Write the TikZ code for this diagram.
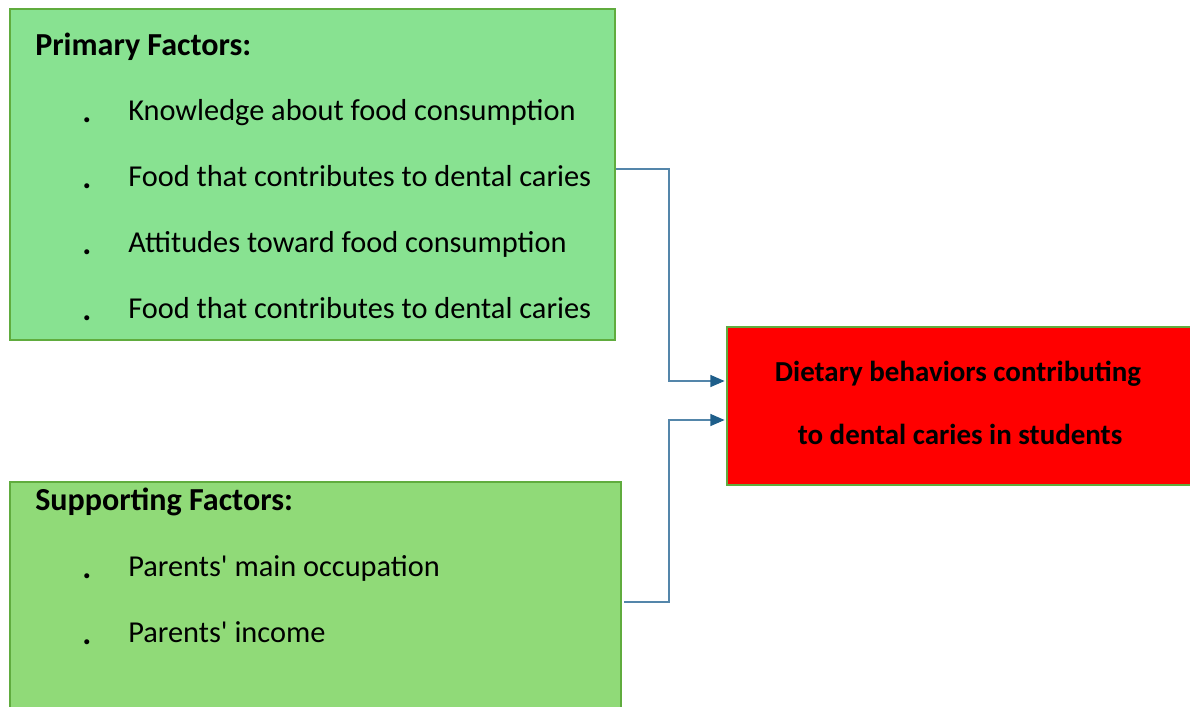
\documentclass[tikz,border=0pt]{standalone}
\usepackage{fontspec}
\setmainfont{Carlito}
\usetikzlibrary{arrows.meta}

\definecolor{primaryfill}{RGB}{136,226,145}
\definecolor{supportfill}{RGB}{144,218,120}
\definecolor{boxline}{RGB}{96,172,62}
\definecolor{linkblue}{RGB}{84,134,170}
\definecolor{tipblue}{RGB}{30,94,138}

\begin{document}
\begin{tikzpicture}[x=0.025cm,y=-0.025cm,
  factorbox/.style={draw=boxline,line width=1.4pt,rectangle,inner sep=0pt},
  head/.style={anchor=base west,inner sep=0pt,font=\fontsize{22.8}{26}\selectfont\bfseries},
  item/.style={anchor=base west,inner sep=0pt,font=\fontsize{21.6}{25}\selectfont},
  dot/.style={anchor=base,inner sep=0pt,font=\fontsize{24}{26}\selectfont\bfseries},
  goaltext/.style={anchor=base,inner sep=0pt,font=\fontsize{20.6}{24}\selectfont\bfseries},
  link/.style={draw=linkblue,line width=0.8pt,shorten >=1pt,
    -{Triangle[length=10pt,width=8.5pt,color=tipblue]}}]
\useasboundingbox (0,0) rectangle (1190,706);
\clip (0,0) rectangle (1190,706);

% boxes
\node[factorbox,fill=primaryfill,minimum width=15.125cm,minimum height=8.275cm] (primary) at (312.5,174.5) {};
\node[factorbox,fill=supportfill,minimum width=15.275cm,minimum height=5.95cm] (support) at (315.5,601) {};
\node[factorbox,fill=red,minimum width=11.825cm,minimum height=3.95cm] (goal) at (963.5,406) {};

% primary factors
\node[head] (primaryhead) at (35,55) {Primary Factors:};
\node[dot] (pdot1) at (87,122) {.};
\node[item] (pitem1) at (128,120) {Knowledge about food consumption};
\node[dot] (pdot2) at (87,188) {.};
\node[item] (pitem2) at (128,186) {Food that contributes to dental caries};
\node[dot] (pdot3) at (87,254) {.};
\node[item] (pitem3) at (128,252) {Attitudes toward food consumption};
\node[dot] (pdot4) at (87,320) {.};
\node[item] (pitem4) at (128,318) {Food that contributes to dental caries};

% supporting factors
\node[head] (supporthead) at (35,510) {Supporting Factors:};
\node[dot] (sdot1) at (87,578) {.};
\node[item] (sitem1) at (128,576) {Parents\textquotesingle{} main occupation};
\node[dot] (sdot2) at (87,644) {.};
\node[item] (sitem2) at (128,642) {Parents\textquotesingle{} income};

% outcome
\node[goaltext] (goalA) at (958,381) {Dietary behaviors contributing};
\node[goaltext] (goalB) at (960,444) {to dental caries in students};

% connectors
\coordinate (kneeA) at (669,169);
\coordinate (kneeB) at (669,602);
\draw[link] (primary.east |- kneeA) -- (kneeA) |- (goal.west |- 0,381);
\draw[link] (624,602) -- (kneeB) |- (goal.west |- 0,420);
\end{tikzpicture}
\end{document}
